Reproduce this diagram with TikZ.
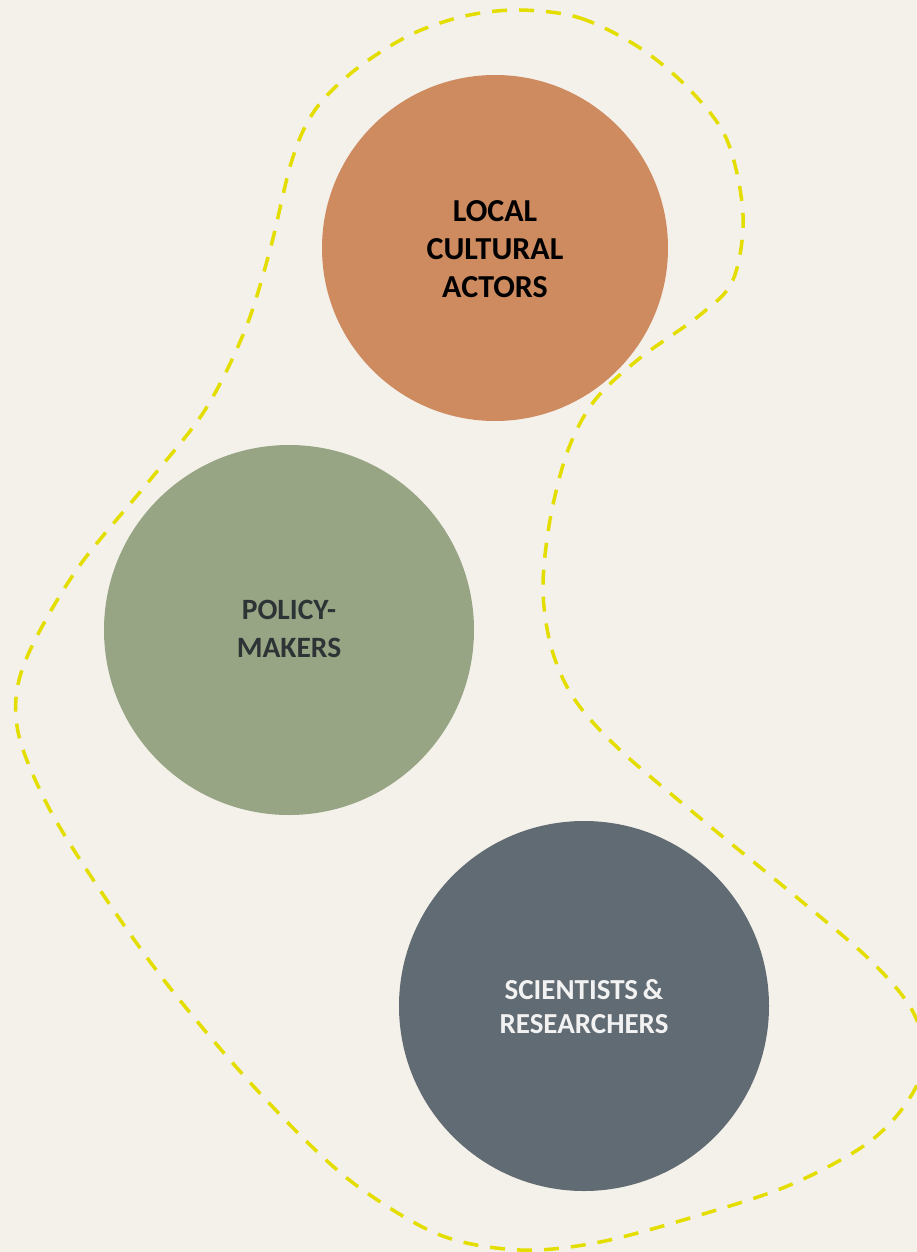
\documentclass[tikz,border=0pt]{standalone}
\usepackage{fontspec}
\setmainfont{Carlito}
\definecolor{bg}{HTML}{F4F1EA}
\definecolor{corange}{HTML}{CF8B60}
\definecolor{cgreen}{HTML}{98A584}
\definecolor{cslate}{HTML}{616B73}
\definecolor{dashy}{HTML}{E3DD00}
\definecolor{txtdark}{HTML}{2E3436}
\begin{document}
\begin{tikzpicture}[x=1pt,y=-1pt,
  actor/.style={circle,inner sep=0pt,text width=220pt,align=center,font=\bfseries\fontsize{32}{38}\selectfont},
  blob/.style={draw=dashy,line width=3.5pt,dash pattern=on 15pt off 12pt}]
\fill[bg] (0,0) rectangle (917,1252);
\useasboundingbox (0,0) rectangle (917,1252);
\begin{scope}
\clip (0,0) rectangle (917,1252);
\draw[blob] plot[smooth cycle,tension=0.55] coordinates{
 (520,10) (580,18) (640,48) (690,90) (727,140) (743,215) (733,280) (700,315)
 (640,358) (595,400) (568,450) (550,520) (543,590) (552,650) (575,700) (620,750)
 (700,818) (800,900) (870,960) (912,1010) (925,1060) (905,1105) (865,1145)
 (790,1185) (700,1215) (600,1242) (520,1250) (440,1235) (360,1188) (300,1135)
 (230,1060) (160,975) (100,890) (50,810) (20,740) (17,690) (35,640) (80,565)
 (150,480) (205,410) (245,330) (270,250) (292,160) (315,110) (355,70) (410,35) (465,16)};
\end{scope}
\fill[corange] (495,248) circle (173);
\fill[cgreen] (289,630) circle (185);
\fill[cslate] (584,1006) circle (185);
\node[actor,text=black] (local) at (495,249) {LOCAL\\CULTURAL\\ACTORS};
\node[actor,text=txtdark,font=\bfseries\fontsize{29.5}{38}\selectfont] (policy) at (289,629) {POLICY-\\MAKERS};
\node[actor,text=white!95!black,font=\bfseries\fontsize{29}{34}\selectfont] (sci) at (584,1007) {SCIENTISTS\,\&\\RESEARCHERS};
\end{tikzpicture}
\end{document}
